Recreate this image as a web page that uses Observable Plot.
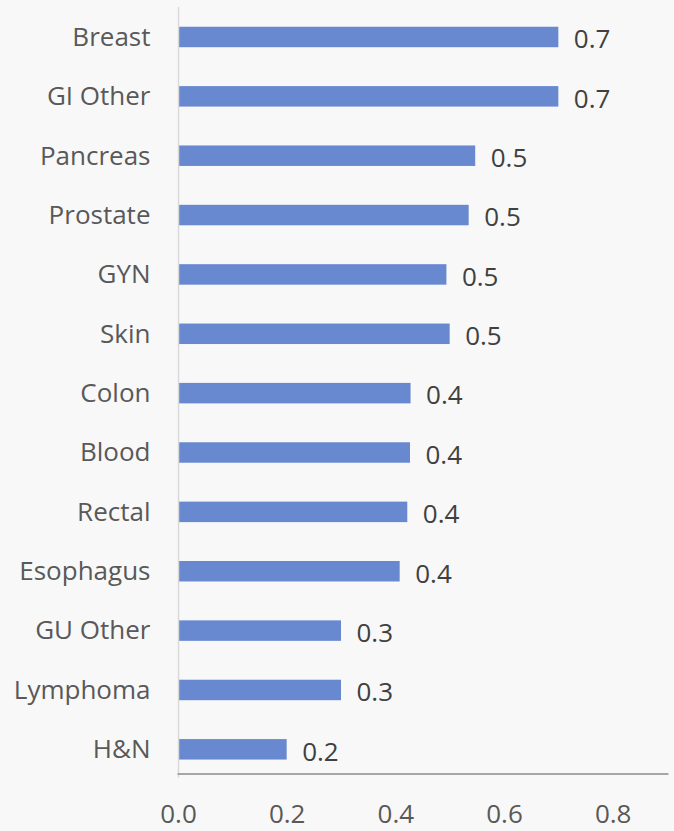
<!DOCTYPE html>
<html>
<head>
<meta charset="utf-8">
<script src="https://cdn.jsdelivr.net/npm/d3@7"></script>
<script src="https://cdn.jsdelivr.net/npm/@observablehq/plot@0.6"></script>
<style>
  html, body { margin: 0; padding: 0; background: #f8f8f8; }
  #chart svg { display: block; background: #f8f8f8; }
</style>
</head>
<body>
<div id="chart"></div>
<script>
const categories = ["Breast", "GI Other", "Pancreas", "Prostate", "GYN", "Skin", "Colon", "Blood", "Rectal", "Esophagus", "GU Other", "Lymphoma", "H&N"];
const values = [0.70, 0.70, 0.547, 0.535, 0.494, 0.50, 0.428, 0.427, 0.422, 0.408, 0.30, 0.30, 0.20];
const xTicks = [0, 0.2, 0.4, 0.6, 0.8];

const data = categories.map((c, i) => ({category: c, value: values[i]}));

const chart = Plot.plot({
  width: 674,
  height: 831,
  marginTop: 7,
  marginBottom: 57.5,
  marginLeft: 178,
  marginRight: 7,
  style: {fontFamily: "'Open Sans', 'Noto Sans', sans-serif", fontSize: "26px", background: "#f8f8f8"},
  x: {domain: [0, 0.9], ticks: xTicks, tickFormat: d3.format(".1f")},
  y: {domain: categories, range: [7.3, 779], paddingInner: 0.655, paddingOuter: 0.3275, round: false},
  marks: [
    Plot.barX(data, {x: "value", y: "category", fill: "#6889d0"}),
    Plot.text(data, {x: "value", y: "category", text: d => d3.format(".1f")(d.value), textAnchor: "start", dx: 15, dy: 2.5, fill: "#404040", fontSize: 26}),
    Plot.ruleX([0], {stroke: "#d9d9d9", strokeWidth: 1.5, insetBottom: -4}),
    Plot.frame({anchor: "bottom", stroke: "#a6a6a6", strokeWidth: 2}),
    Plot.axisX({ticks: xTicks, tickFormat: d3.format(".1f"), tickSize: 0, tickPadding: 31, fill: "#595959", fontSize: 26, label: null}),
    Plot.axisY({tickSize: 0, tickPadding: 28, fill: "#595959", fontSize: 26, label: null})
  ]
});
document.getElementById("chart").appendChild(chart);
</script>
</body>
</html>
